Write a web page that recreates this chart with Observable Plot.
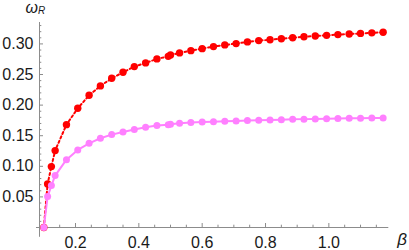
<!DOCTYPE html>
<html><head><meta charset="utf-8">
<script src="https://cdn.jsdelivr.net/npm/d3@7"></script>
<script src="https://cdn.jsdelivr.net/npm/@observablehq/plot@0.6"></script>
<style>html,body{margin:0;padding:0;background:#fff} svg{display:block}</style>
</head><body><div id="chart"></div>
<script>
// β grid
const beta = [0.1, 0.1119, 0.1238, 0.1357, 0.1714, 0.2071, 0.2429, 0.2786, 0.3143, 0.35, 0.3857,
  0.4214, 0.4571, 0.4929, 0.5, 0.5286, 0.5643, 0.6, 0.6357, 0.6714, 0.7071, 0.7429, 0.7786,
  0.8143, 0.85, 0.8857, 0.9214, 0.9571, 0.9929, 1.0286, 1.0643, 1.1, 1.1357, 1.1714];
// ω_R, red dotted series
const omegaRed = [0, 0.0712, 0.0995, 0.1257, 0.1681, 0.1948, 0.216, 0.2314, 0.2438, 0.2536, 0.2629,
  0.269, 0.2755, 0.2797, 0.282, 0.2853, 0.289, 0.2923, 0.2956, 0.2984, 0.3005, 0.3033, 0.3054,
  0.3068, 0.3085, 0.3102, 0.3116, 0.3129, 0.314, 0.3152, 0.3162, 0.3172, 0.3181, 0.319];
// ω_R, magenta solid series
const omegaMagenta = [0, 0.0505, 0.0685, 0.0848, 0.1109, 0.1268, 0.1376, 0.1458, 0.1518, 0.1562, 0.16,
  0.1637, 0.1665, 0.1681, 0.1686, 0.1703, 0.1714, 0.1725, 0.173, 0.1735, 0.1742, 0.1747, 0.1752,
  0.1757, 0.1762, 0.1767, 0.1771, 0.1775, 0.1778, 0.1781, 0.1784, 0.1787, 0.1789, 0.1791];

const xMajor = [0.2, 0.4, 0.6, 0.8, 1.0];
const xMinor = [0.1, 0.15, 0.25, 0.3, 0.35, 0.45, 0.5, 0.55, 0.65, 0.7, 0.75, 0.85, 0.9, 0.95, 1.05, 1.1, 1.15];
const yMajor = [0.05, 0.10, 0.15, 0.20, 0.25, 0.30];
const yMinor = [0.01, 0.02, 0.03, 0.04, 0.06, 0.07, 0.08, 0.09, 0.11, 0.12, 0.13, 0.14, 0.16, 0.17, 0.18, 0.19,
  0.21, 0.22, 0.23, 0.24, 0.26, 0.27, 0.28, 0.29, 0.31, 0.32, 0.33];

const xRange = [0.0768, 1.1893];   // extent of the horizontal axis line
const yRange = [-0.016, 0.335];    // extent of the vertical axis line
const xLabel = "β", yLabel = "ω", ySub = "R";

const red = "#ff0000", pink = "#ff80ff", axisColor = "#8c8c8c";
const font = "'Liberation Sans', Arial, sans-serif";

const redData = beta.map((b, i) => ({b, w: omegaRed[i]}));
const pinkData = beta.map((b, i) => ({b, w: omegaMagenta[i]}));

const chart = Plot.plot({
  width: 409, height: 250,
  marginLeft: 39, marginRight: 20.7, marginTop: 22, marginBottom: 23,
  x: {domain: [0.0863, 1.1893], label: null},
  y: {domain: [0, 0.335], label: null},
  style: {fontFamily: font, fontSize: "16px", color: "#1a1a1a", background: "#fff"},
  marks: [
    Plot.ruleY([0], {x1: xRange[0], x2: xRange[1], stroke: axisColor, strokeWidth: 1}),
    Plot.ruleX([xRange[0] + 0.0095], {y1: yRange[0], y2: yRange[1], stroke: axisColor, strokeWidth: 1}),
    Plot.axisX({ticks: xMajor, tickSize: 0, tickPadding: 9, tickFormat: ".1f", fontSize: 16, label: null}),
    Plot.axisX({ticks: xMajor, tickSize: -4, tickFormat: () => "", stroke: axisColor, label: null}),
    Plot.axisX({ticks: xMinor, tickSize: -2.3, tickFormat: () => "", stroke: axisColor, label: null}),
    Plot.axisY({ticks: yMajor, tickSize: 0, tickPadding: 6, tickFormat: ".2f", fontSize: 16, label: null}),
    Plot.axisY({ticks: yMajor, tickSize: -4, tickFormat: () => "", stroke: axisColor, label: null}),
    Plot.axisY({ticks: yMinor, tickSize: -2.3, tickFormat: () => "", stroke: axisColor, label: null}),
    Plot.line(redData, {x: "b", y: "w", stroke: red, strokeWidth: 2, strokeDasharray: "2.2,2.6"}),
    Plot.dot(redData, {x: "b", y: "w", r: 3.7, fill: red}),
    Plot.line(pinkData, {x: "b", y: "w", stroke: pink, strokeWidth: 2}),
    Plot.dot(pinkData, {x: "b", y: "w", r: 3.5, fill: pink}),
    Plot.text([xLabel], {text: d => d, frameAnchor: "bottom-right", dx: 8.5, dy: 17, textAnchor: "start",
      lineAnchor: "bottom", fontStyle: "italic", fontSize: 17, fill: "#1a1a1a"}),
    Plot.text([yLabel], {text: d => d, frameAnchor: "top-left", dx: -14, dy: -9.5, textAnchor: "start",
      lineAnchor: "bottom", fontStyle: "italic", fontSize: 16, fill: "#1a1a1a"}),
    Plot.text([ySub], {text: d => d, frameAnchor: "top-left", dx: -1.5, dy: -8.5, textAnchor: "start",
      lineAnchor: "bottom", fontStyle: "italic", fontSize: 10, fill: "#1a1a1a"})
  ]
});
document.getElementById("chart").appendChild(chart);
</script>
</body></html>
